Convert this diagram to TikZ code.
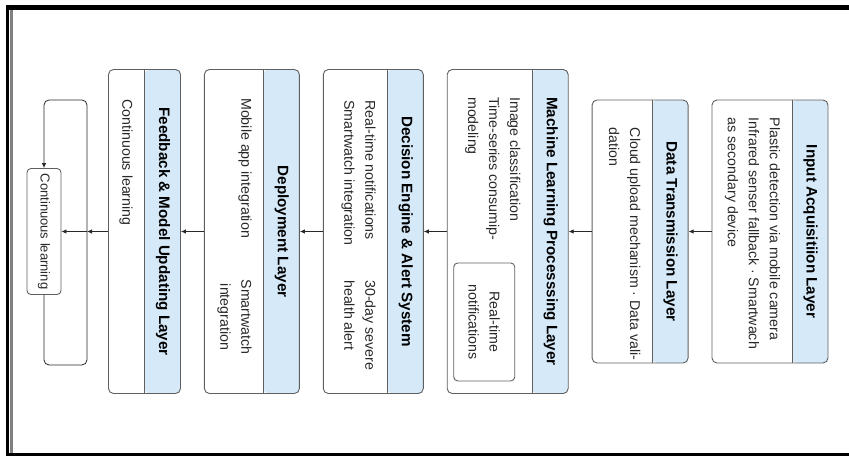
\documentclass[tikz,border=0pt]{standalone}
\usepackage{fontspec}
\setmainfont{Liberation Sans}
\usetikzlibrary{positioning,arrows.meta}
\definecolor{headblue}{RGB}{213,233,248}
\definecolor{edgegray}{RGB}{95,95,95}
\definecolor{inkgray}{RGB}{40,40,40}
\tikzset{
    layer/.style={rectangle, rounded corners=5pt, draw=edgegray, line width=0.9pt, inner sep=0pt},
    header/.style={path picture={
        \fill[headblue] ([xshift=-36pt]path picture bounding box.north east) rectangle (path picture bounding box.south east);
        \draw[edgegray, line width=0.9pt] ([xshift=-36pt]path picture bounding box.north east) -- ([xshift=-36pt]path picture bounding box.south east);}},
    head/.style={rotate=-90, inner sep=0pt, text=black, font=\fontsize{15.2}{18}\selectfont\bfseries},
    body/.style={rotate=-90, anchor=north west, align=left, inner sep=0pt, text=inkgray, font=\fontsize{14.2}{21}\selectfont},
    notebox/.style={rotate=-90, rectangle, rounded corners=4pt, draw=edgegray, line width=0.9pt, align=center, text=inkgray, font=\fontsize{14.2}{21}\selectfont},
    line/.style={-{Latex[length=5pt,width=4.5pt]}, line width=0.8pt, draw=inkgray},
}
\begin{document}
\begin{tikzpicture}
        [x=1pt, y=-1pt, node distance=23pt]
        \useasboundingbox (0,0) rectangle (849,456);

        % frame of the scanned page
        \fill[black] (6,4.5) rectangle (849,9.5);
        \fill[black] (6,4.5) rectangle (9.3,456);
        \fill[gray] (10.3,9.5) rectangle (12.5,456);
        \fill[black] (6,452.5) rectangle (849,455.5);

        % Layer boxes
        \node[layer, header, minimum width=116pt, minimum height=263pt] (input) at (770,231.5) {};
        \node[layer, header, minimum width=96pt, minimum height=263pt, left=of input] (transmit) {};
        \node[layer, header, minimum width=121pt, minimum height=324pt, left=of transmit] (ml) {};
        \node[layer, header, minimum width=100pt, minimum height=324pt, left=of ml] (decision) {};
        \node[layer, header, minimum width=95pt, minimum height=324pt, left=of decision] (deploy) {};
        \node[layer, header, minimum width=72pt, minimum height=324pt, left=of deploy] (feedback) {};

        % Headers
        \node[head] at ([xshift=-18pt]input.east) {Input Acquisitiion Layer};
        \node[head] at ([xshift=-18pt]transmit.east) {Data Transmission Layer};
        \node[head] at ([xshift=-18pt]ml.east) {Machine Learning Processsing Layer};
        \node[head] at ([xshift=-18pt]decision.east) {Decision Engine \& Alert System};
        \node[head] at ([xshift=-18pt]deploy.east) {Deployment Layer};
        \node[head] at ([xshift=-18pt]feedback.east) {Feedback \& Model Updating Layer};

        % Contents
        \node[body] (inputtext) at ([xshift=-48pt,yshift=-18pt]input.north east)
            {Plastic detection via mobile camera\\Infrared senser fallback · Smartwach\\as secondary device};
        \node[body] (transmittext) at ([xshift=-48pt,yshift=-28pt]transmit.north east)
            {Cloud upload mechanism · Data vali-\\dation};
        \node[body] (mltext) at ([xshift=-48pt,yshift=-28pt]ml.north east)
            {Image classification\\Time-series consumip-\\modeling};
        \node[notebox, minimum width=118pt, minimum height=61pt] (mlnote) at ([xshift=37.5pt,yshift=72pt]ml.south west)
            {Real-time\\notifications};
        \node[body] (decisiontext) at ([xshift=-48pt,yshift=-31pt]decision.north east)
            {Real-time notifications\\Smartwatch integration};
        \node[body] (decisionalert) at ([xshift=-48pt,yshift=-211pt]decision.north east)
            {30-day severe\\health alert};
        \node[body] (deploytext) at ([xshift=-48pt,yshift=-29pt]deploy.north east)
            {Mobile app integration};
        \node[body, anchor=north, align=center] (deploywatch) at ([xshift=-48pt,yshift=-248pt]deploy.north east)
            {Smartwatch\\integration};
        \node[body] (feedbacktext) at ([xshift=-48pt,yshift=-30pt]feedback.north east)
            {Continuous learning};

        % Learning loop
        \node[notebox, minimum width=126pt, minimum height=34pt, font=\fontsize{13}{15}\selectfont] (learn) at (44,231.5) {Continuous learning};
        \coordinate (loopin) at (87,231.5);

        % Lines
        \draw[line] (input) -- (transmit);
        \draw[line] (transmit) -- (ml);
        \draw[line] (ml) -- (decision);
        \draw[line] (decision) -- (deploy);
        \draw[line] (deploy) -- (feedback);
        \draw[line] (feedback) -- (loopin);
        \draw[line] (loopin) -- (learn.north);
        \draw[line, rounded corners=5pt] (learn.east) -- ++(0,70) -| (87,100) -| (learn.west);

    \end{tikzpicture}
\end{document}
